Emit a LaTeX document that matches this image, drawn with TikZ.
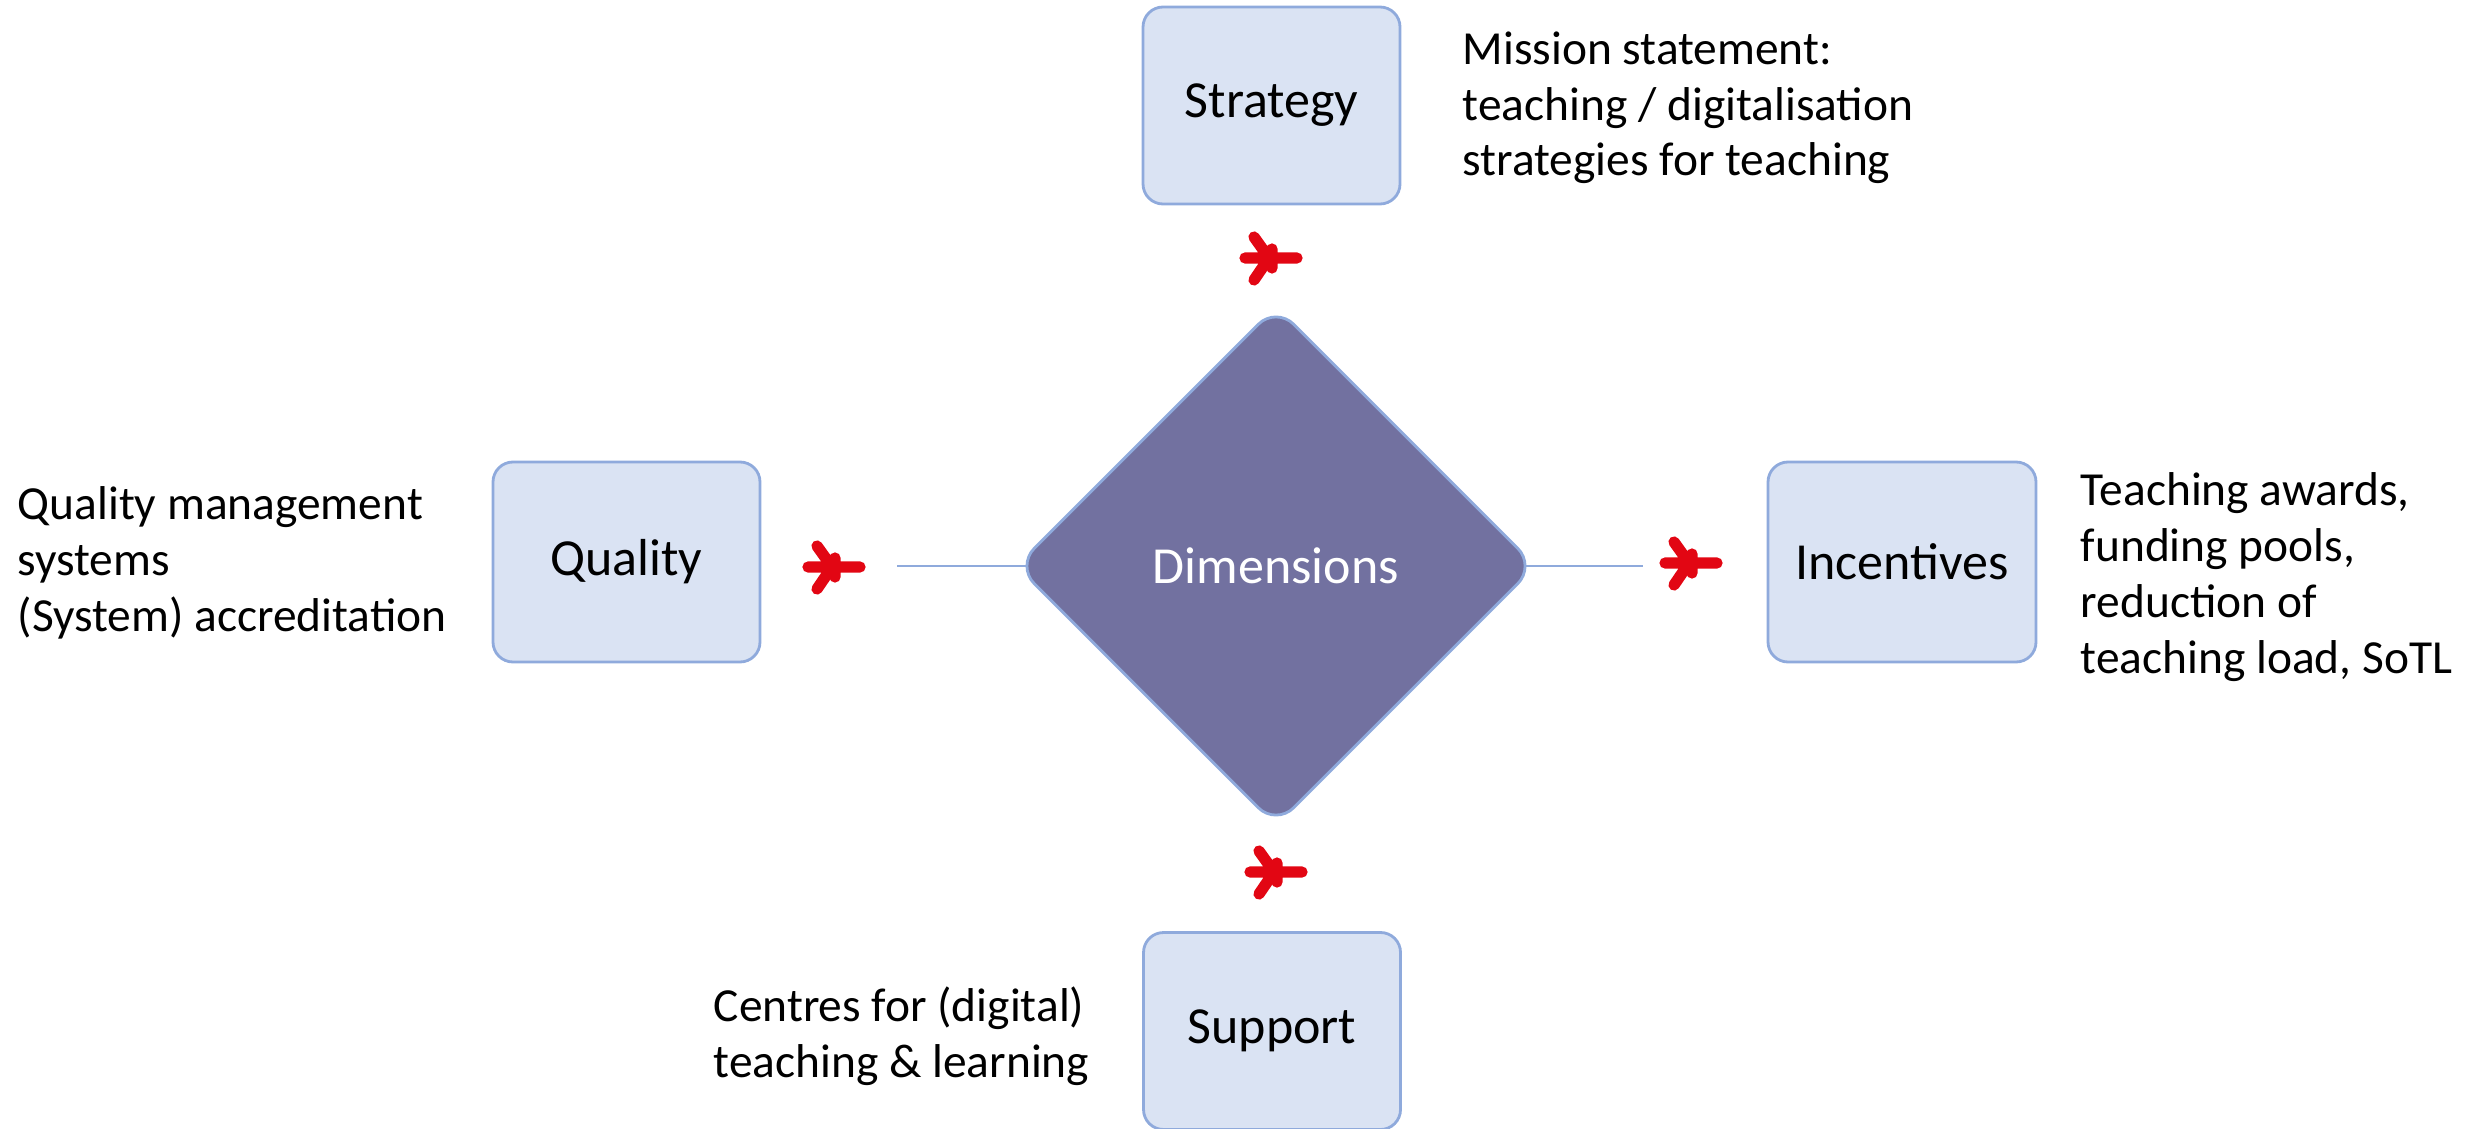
\documentclass[tikz,border=0pt]{standalone}
\usepackage{fontspec}
\setmainfont{Carlito}
\usetikzlibrary{shapes.geometric,backgrounds}
\definecolor{boxfill}{HTML}{DAE3F3}
\definecolor{boxline}{HTML}{8FAADC}
\definecolor{dimfill}{HTML}{7271A0}
\definecolor{markred}{HTML}{E20613}
\begin{document}
\begin{tikzpicture}[
    labelbox/.style={draw=boxline, fill=boxfill, line width=0.8pt, rounded corners=0.2cm,
                     minimum width=2.57cm, minimum height=1.97cm, inner sep=0pt,
                     font=\fontsize{14.8}{17}\selectfont},
    dimbox/.style={diamond, draw=boxline, fill=dimfill, line width=0.8pt, rounded corners=0.25cm,
                   minimum width=5.2cm, minimum height=5.2cm, inner sep=0pt, text=white,
                   font=\fontsize{14.8}{17}\selectfont},
    sidetext/.style={anchor=base west, align=left, inner sep=0pt,
                     font=\fontsize{13.5}{15.9}\selectfont},
    link/.style={draw=boxline, line width=0.8pt},
    pics/redmark/.style={code={
        \draw[markred, line width=3.2pt, line cap=round, line join=round]
            (-0.27,0) -- (0.25,0)
            (-0.18,0.21) -- (-0.03,0) -- (-0.18,-0.22)
            (0,0.09) -- (0,-0.10);
    }}
]
\useasboundingbox (0,0) rectangle (24.83,-11.29);

% centre
\node[dimbox] (dim) at (12.76,-5.66) {Dimensions};

% the four dimensions
\node[labelbox] (strategy) at (12.715,-1.055) {Strategy};
\node[labelbox, minimum width=2.67cm, minimum height=2.00cm] (quality) at (6.265,-5.62) {Quality};
\node[labelbox, minimum width=2.68cm, minimum height=2.00cm] (incentives) at (19.02,-5.62) {Incentives};
\node[labelbox] (support) at (12.72,-10.31) {Support};

% descriptions (anchored at the last line)
\node[sidetext] (mission) at (14.62,-1.76) {Mission statement:\\teaching / digitalisation\\strategies for teaching};
\node[sidetext] (qualtext) at (0.17,-6.31) {Quality management\\systems\\(System) accreditation};
\node[sidetext] (inctext) at (20.80,-6.73) {Teaching awards,\\funding pools,\\reduction of\\teaching load, SoTL};
\node[sidetext] (centres) at (7.13,-10.77) {Centres for (digital)\\teaching \& learning};

% links, behind the diamond
\coordinate (qend) at (8.97,-5.66);
\coordinate (iend) at (16.43,-5.66);
\begin{scope}[on background layer]
\draw[link] (dim.center) -- (qend);
\draw[link] (dim.center) -- (iend);
\end{scope}

% marks
\pic at (12.72,-2.58) {redmark};
\pic at (12.77,-8.72) {redmark};
\pic at (8.35,-5.67) {redmark};
\pic at (16.92,-5.63) {redmark};
\end{tikzpicture}
\end{document}
